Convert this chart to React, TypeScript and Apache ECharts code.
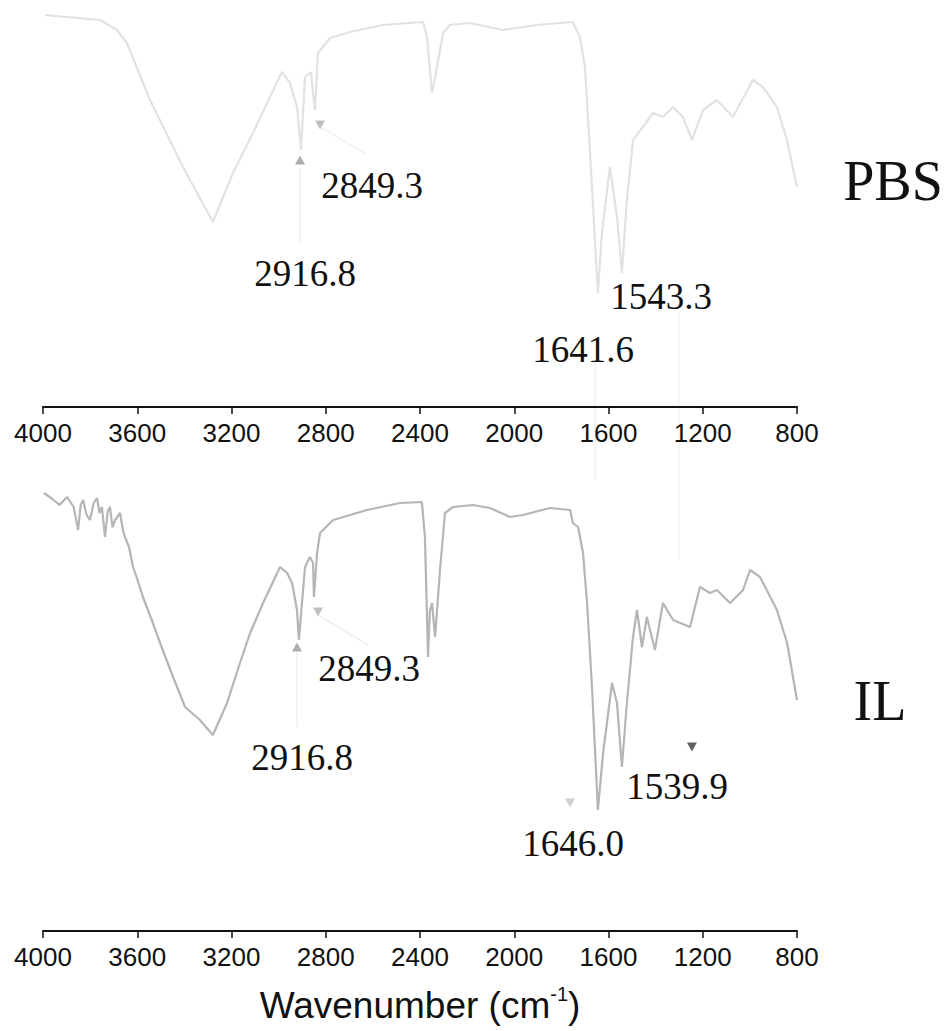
import React, { useEffect, useRef } from "react";
import * as echarts from "echarts";

// ---------- data (wavenumber in cm-1, transmittance in arbitrary units) ----------
const pbsWavenumber = [
  3992, 3900, 3758, 3686, 3644, 3546, 3406, 3279, 3194, 3109, 3049, 2986, 2952, 2922, 2905,
  2888, 2863, 2846, 2833, 2782, 2697, 2557, 2387, 2370, 2349, 2328, 2302, 2273, 2188, 2048,
  1903, 1751, 1721, 1700, 1679, 1645, 1628, 1594, 1564, 1543, 1522, 1496, 1454, 1411, 1369,
  1326, 1284, 1246, 1199, 1140, 1072, 987, 945, 885, 843, 800,
];
const pbsTransmittance = [
  98, 97.5, 96.75, 94.25, 91, 76.75, 60, 46.25, 58.5, 68.5, 76, 83.75, 81, 75, 64.25,
  82.5, 83.75, 74.25, 88.5, 92.25, 93.75, 95.5, 96.25, 92.5, 78.5, 85, 93.5, 95.5, 96, 94.25,
  95.5, 96.25, 92.5, 85, 64.25, 28.5, 43.5, 60, 47.5, 33.5, 51.75, 66.75, 70, 73.5, 72.5,
  75, 72.5, 66.75, 74.25, 76.75, 72.5, 81.75, 80, 75, 66.75, 55,
];

const ilWavenumber = [
  3996, 3960, 3930, 3898, 3870, 3851, 3840, 3830, 3815, 3801, 3785, 3771, 3760, 3750, 3737,
  3725, 3716, 3705, 3694, 3673, 3660, 3652, 3635, 3618, 3600, 3576, 3540, 3503, 3448, 3397,
  3334, 3279, 3219, 3164, 3121, 3066, 2994, 2964, 2943, 2922, 2914, 2901, 2888, 2867, 2854,
  2850, 2837, 2824, 2769, 2625, 2485, 2392, 2379, 2366, 2358, 2349, 2336, 2315, 2294, 2260,
  2175, 2103, 2018, 1963, 1848, 1763, 1751, 1729, 1708, 1691, 1670, 1645, 1623, 1585, 1564,
  1543, 1522, 1496, 1479, 1458, 1437, 1403, 1369, 1326, 1254, 1212, 1169, 1140, 1084, 1029,
  999, 957, 885, 842, 800,
];
const ilTransmittance = [
  109.5, 108, 106.5, 108.5, 106, 100.25, 106.5, 107.75, 104, 102.75, 107, 108.25, 104.5, 106, 98.5,
  105, 106, 101, 102.75, 104.5, 100, 98.5, 96, 91, 88, 83.5, 78, 72, 63.5, 56,
  52.75, 49, 57, 67, 74.5, 82, 91, 89.5, 87, 80.25, 72.75, 82, 91, 93.5, 92,
  83.5, 94.5, 99.5, 102.75, 105.25, 107, 107.25, 98.5, 68.5, 80, 82, 73.5, 90.25, 104.5, 106,
  106.5, 105.75, 103.5, 104, 105.75, 105.25, 102, 101, 94.5, 82, 61, 30.25, 44.5, 62, 57,
  41, 57, 73.5, 80.25, 71, 78.5, 70.25, 82, 77.75, 76, 86, 84.5, 85.25, 82, 85.25,
  90.25, 88.5, 80.25, 72, 57.75,
];

// peak markers: [wavenumber, transmittance, direction]
const pbsMarkers: [number, number, string][] = [
  [2909, 61.75, "up"],
  [2824, 70.5, "down"],
];
const ilMarkers: [number, number, string][] = [
  [2922, 71, "up"],
  [2833, 79.75, "down"],
  [1763, 32, "down"],
  [1246, 46, "down"],
];

const pbsPeakLabels = ["2849.3", "2916.8", "1543.3", "1641.6"];
const ilPeakLabels = ["2849.3", "2916.8", "1646.0", "1539.9"];
const sampleNames = ["PBS", "IL"];
const axisTitle = "Wavenumber (cm";

const toPairs = (xs: number[], ys: number[]) => xs.map((x, i) => [x, ys[i]]);

export default function App() {
  const ref = useRef<HTMLDivElement>(null);

  useEffect(() => {
    if (!ref.current) return;
    const chart = echarts.init(ref.current, null, { renderer: "svg" });

    const axisCommon = {
      type: "value" as const,
      min: 800,
      max: 4000,
      interval: 400,
      inverse: true,
      position: "bottom" as const,
      axisLine: { show: true, onZero: false, lineStyle: { color: "#111", width: 2 } },
      axisTick: { show: true, length: 7, lineStyle: { color: "#111", width: 1.5 } },
      axisLabel: {
        color: "#111",
        fontSize: 26,
        fontFamily: "Liberation Sans, Arial, sans-serif",
        margin: 13,
        formatter: (v: number) => String(v),
      },
      splitLine: { show: false },
    };

    const serifText = "Liberation Serif, Times New Roman, serif";
    const annot = (text: string, x: number, y: number, size = 37) => ({
      type: "text",
      x,
      y,
      silent: true,
      style: {
        text,
        fill: "#111",
        fontSize: size,
        fontFamily: serifText,
        align: "center",
        verticalAlign: "middle",
      },
    });
    const faint = (x1: number, y1: number, x2: number, y2: number, c = "#f0f0f0") => ({
      type: "line",
      silent: true,
      shape: { x1, y1, x2, y2 },
      style: { stroke: c, lineWidth: 2 },
    });

    const markerData = (m: [number, number, string][], colors: string[]) =>
      m.map((p, i) => ({
        value: [p[0], p[1]],
        symbolRotate: p[2] === "down" ? 180 : 0,
        itemStyle: { color: colors[i] },
      }));

    chart.setOption({
      animation: false,
      grid: [
        { left: 43, right: 152, top: 7, height: 400 },
        { left: 43, right: 152, top: 491, height: 440 },
      ],
      xAxis: [
        { ...axisCommon, gridIndex: 0 },
        {
          ...axisCommon,
          gridIndex: 1,
          name: `{a|${axisTitle}}{s|-1}{a|)}`,
          nameLocation: "middle",
          nameGap: 53,
          nameTextStyle: {
            rich: {
              a: { fontSize: 37, fontFamily: "Liberation Sans, Arial, sans-serif", color: "#111", lineHeight: 42 },
              s: { fontSize: 20, fontFamily: "Liberation Sans, Arial, sans-serif", color: "#111", verticalAlign: "top", lineHeight: 42, padding: [0, 0, 14, 0] },
            },
          },
        },
      ],
      yAxis: [
        { type: "value", gridIndex: 0, min: 0, max: 100, show: false },
        { type: "value", gridIndex: 1, min: 0, max: 110, show: false },
      ],
      series: [
        {
          type: "line",
          xAxisIndex: 0,
          yAxisIndex: 0,
          data: toPairs(pbsWavenumber, pbsTransmittance),
          symbol: "none",
          lineStyle: { color: "#e2e2e2", width: 2.2 },
        },
        {
          type: "line",
          xAxisIndex: 1,
          yAxisIndex: 1,
          data: toPairs(ilWavenumber, ilTransmittance),
          symbol: "none",
          lineStyle: { color: "#b5b5b5", width: 2.2 },
        },
        {
          type: "scatter",
          xAxisIndex: 0,
          yAxisIndex: 0,
          symbol: "triangle",
          symbolSize: [10, 9],
          data: markerData(pbsMarkers, ["#9a9a9a", "#b0b0b0"]),
        },
        {
          type: "scatter",
          xAxisIndex: 1,
          yAxisIndex: 1,
          symbol: "triangle",
          symbolSize: [10, 9],
          data: markerData(ilMarkers, ["#9a9a9a", "#b0b0b0", "#c4c4c4", "#3a3a3a"]),
        },
      ],
      graphic: [
        faint(322, 128, 366, 154, "#f2f2f2"),
        faint(300, 168, 300, 242, "#f4f4f4"),
        faint(318, 615, 368, 645, "#f0f0f0"),
        faint(297, 652, 297, 727, "#f4f4f4"),
        faint(595, 362, 595, 480, "#f4f4f4"),
        faint(679, 312, 679, 560, "#f6f6f6"),
        annot(pbsPeakLabels[0], 372, 185),
        annot(pbsPeakLabels[1], 305, 273),
        annot(pbsPeakLabels[2], 661, 296),
        annot(pbsPeakLabels[3], 583, 349),
        annot(ilPeakLabels[0], 369, 668),
        annot(ilPeakLabels[1], 302, 757),
        annot(ilPeakLabels[2], 573, 843),
        annot(ilPeakLabels[3], 677, 786),
        annot(sampleNames[0], 893, 181, 56),
        annot(sampleNames[1], 880, 701, 56),
      ],
    });

    return () => chart.dispose();
  }, []);

  return (
    <div
      ref={ref}
      style={{ position: "fixed", left: 0, top: 0, width: 949, height: 1031, background: "#fff" }}
    />
  );
}
